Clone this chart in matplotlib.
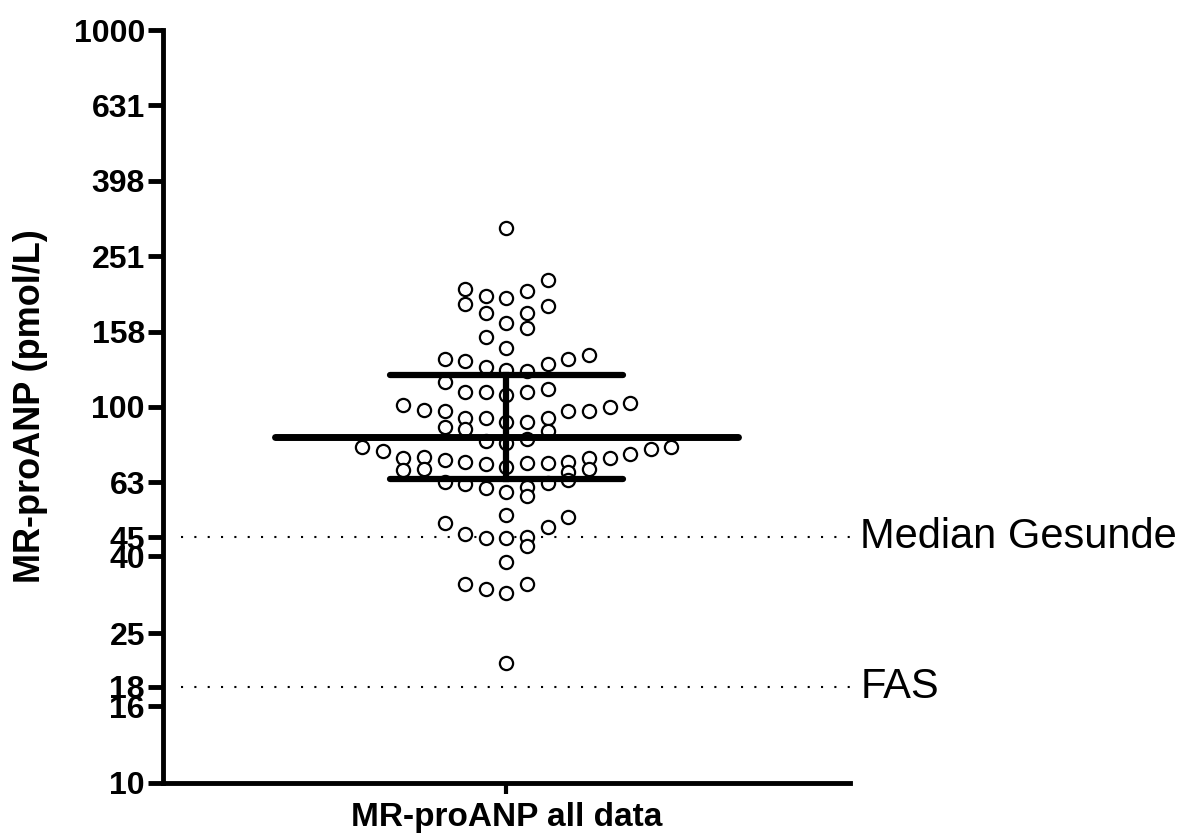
import numpy as np
import matplotlib.pyplot as plt
from matplotlib.ticker import FixedLocator, NullLocator, FixedFormatter

plt.rcParams['font.family'] = ['Liberation Sans', 'DejaVu Sans']

# MR-proANP values (pmol/L), with their swarm column
values = [298, 217, 205, 197, 194, 203, 187, 185, 177, 177,
          167, 162, 153, 143, 134, 132, 127, 125, 124, 130,
          134, 137, 116, 109, 109, 107, 109, 111, 101, 98,
          97, 93, 93, 91, 91, 93, 97, 97, 100, 102,
          88, 87, 86, 81, 80, 82, 78, 76, 78, 77,
          75, 73, 73, 73.4, 72.1, 71.2, 70.4, 69.1, 70.8, 70.8,
          71.2, 73, 67.8, 68.2, 67, 68.2, 63, 62.3, 60.8, 59.3,
          61.1, 57.8, 62.6, 63.8, 51.5, 49, 50.9, 47.9, 45.8, 44.7,
          44.7, 45, 42.6, 38.6, 33.8, 32.8, 31.9, 33.8, 20.8]
slots = [0, 2, -2, -1, 0, 1, -2, 2, -1, 1,
         0, 1, -1, 0, -3, -2, -1, 0, 1, 2,
         3, 4, -3, -2, -1, 0, 1, 2, -5, -4,
         -3, -2, -1, 0, 1, 2, 3, 4, 5, 6,
         -3, -2, 2, -1, 0, 1, -7, -6, 8, 7,
         6, 5, -5, -4, -3, -2, -1, 0, 1, 2,
         3, 4, -5, -4, 3, 4, -3, -2, -1, 0,
         1, 1, 2, 3, 0, -3, 3, 2, -2, -1,
         0, 1, 1, 0, -2, -1, 0, 1, 0]

center = 83.0      # central line
lower, upper = 64.2, 121.3

ref_values = [45, 18]
ref_labels = ["Median Gesunde", "FAS"]

yticks = [10, 16, 18, 25, 40, 45, 63, 100, 158, 251, 398, 631, 1000]
category = "MR-proANP all data"

step = 0.06   # width of one swarm column in axis units

fig = plt.figure(figsize=(11.87, 8.36), dpi=100)
ax = fig.add_axes([0.1373, 0.0634, 0.5788, 0.9007])

xs = np.array(slots) * step
ax.plot(xs, values, 'o', ms=9.5, mfc='white', mec='black', mew=1.6, zorder=2)

# median and spread bars
ax.plot([-0.675, 0.675], [center, center], color='black', lw=5, zorder=3,
        solid_capstyle='round')
ax.plot([-0.34, 0.34], [upper, upper], color='black', lw=4.5, zorder=3,
        solid_capstyle='round')
ax.plot([-0.34, 0.34], [lower, lower], color='black', lw=4.5, zorder=3,
        solid_capstyle='round')
ax.plot([0, 0], [lower, upper], color='black', lw=4.5, zorder=3)

# reference lines
for v, lab in zip(ref_values, ref_labels):
    ax.plot([-0.948, 1.0], [v, v], color='black', lw=1.5,
            linestyle=(0, (1, 5.4)), clip_on=False, zorder=1)
    ax.text(1.03, v, lab, fontsize=30, va='center', ha='left')

ax.set_yscale('log')
ax.set_ylim(10, 1000)
ax.set_xlim(-1, 1)
ax.yaxis.set_major_locator(FixedLocator(yticks))
ax.yaxis.set_major_formatter(FixedFormatter([str(t) for t in yticks]))
ax.yaxis.set_minor_locator(NullLocator())
ax.set_xticks([0])
ax.set_xticklabels([category])

for s in ['top', 'right']:
    ax.spines[s].set_visible(False)
for s in ['left', 'bottom']:
    ax.spines[s].set_linewidth(3.5)

ax.tick_params(axis='y', length=11, width=3.5, pad=2, labelsize=23)
ax.tick_params(axis='x', length=8, width=3, pad=6, labelsize=24)
for lab in ax.get_yticklabels() + ax.get_xticklabels():
    lab.set_fontweight('bold')

ax.set_ylabel("MR-proANP (pmol/L)", fontsize=26, fontweight='bold')
ax.yaxis.set_label_coords(-0.168, 0.5)

plt.savefig("out.png", dpi=100)
